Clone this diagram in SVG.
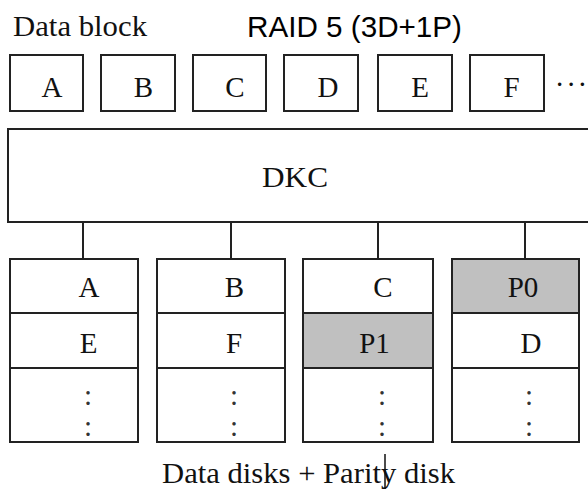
<svg xmlns="http://www.w3.org/2000/svg" width="588" height="489" viewBox="0 0 588 489">
<style>
.box{fill:#fff;stroke:#222;stroke-width:2}
.par{fill:#c0c0c0;stroke:#222;stroke-width:2}
.ln{stroke:#222;stroke-width:2;fill:none}
.t{font-family:"Liberation Serif","Times New Roman",serif;font-size:29px;fill:#111}
.tm{font-family:"Liberation Serif","Times New Roman",serif;font-size:29px;fill:#111;text-anchor:middle}
.dot{font-family:"Liberation Serif","Times New Roman",serif;font-size:29px;fill:#333;text-anchor:middle}
.s{font-family:"Liberation Sans",Arial,sans-serif;font-size:30px;fill:#000}
</style>
<rect width="588" height="489" fill="#fff"/>
<text class="t" x="13" y="36" textLength="134" lengthAdjust="spacingAndGlyphs">Data block</text>
<text class="s" x="247" y="37" textLength="215" lengthAdjust="spacingAndGlyphs">RAID 5 (3D+1P)</text>
<g id="block-A"><rect class="box" x="10" y="55" width="73" height="56"/><text class="tm" x="52" y="97">A</text></g>
<g id="block-B"><rect class="box" x="101" y="55" width="74" height="56"/><text class="tm" x="143.5" y="97">B</text></g>
<g id="block-C"><rect class="box" x="193" y="55" width="73" height="56"/><text class="tm" x="235" y="97">C</text></g>
<g id="block-D"><rect class="box" x="284" y="55" width="74" height="56"/><text class="tm" x="328" y="97">D</text></g>
<g id="block-E"><rect class="box" x="378" y="55" width="74" height="56"/><text class="tm" x="420" y="97">E</text></g>
<g id="block-F"><rect class="box" x="470" y="55" width="74" height="56"/><text class="tm" x="511.5" y="97">F</text></g>
<text class="t" x="556" y="86" textLength="30" lengthAdjust="spacing">...</text>
<g id="dkc"><rect class="box" x="8" y="129" width="590" height="93"/><text class="t" x="262" y="187" textLength="66" lengthAdjust="spacingAndGlyphs">DKC</text></g>
<g id="connectors">
<line class="ln" x1="83" y1="222" x2="83" y2="259"/>
<line class="ln" x1="231" y1="222" x2="231" y2="259"/>
<line class="ln" x1="378" y1="222" x2="378" y2="259"/>
<line class="ln" x1="525" y1="222" x2="525" y2="259"/>
</g>
<g id="disk1">
<rect class="box" x="10" y="259" width="128" height="54"/>
<rect class="box" x="10" y="313" width="128" height="55"/>
<rect class="box" x="10" y="368" width="128" height="74"/>
<text class="tm" x="89" y="297">A</text>
<text class="tm" x="88.5" y="353">E</text>
<text class="dot" x="88" y="405">:</text>
<text class="dot" x="88" y="436">:</text>
</g>
<g id="disk2">
<rect class="box" x="157" y="259" width="128" height="54"/>
<rect class="box" x="157" y="313" width="128" height="55"/>
<rect class="box" x="157" y="368" width="128" height="74"/>
<text class="tm" x="234.5" y="297">B</text>
<text class="tm" x="234" y="353">F</text>
<text class="dot" x="234" y="405">:</text>
<text class="dot" x="234" y="436">:</text>
</g>
<g id="disk3">
<rect class="box" x="303" y="259" width="130" height="54"/>
<rect class="par" x="303" y="313" width="130" height="55"/>
<rect class="box" x="303" y="368" width="130" height="74"/>
<text class="tm" x="383" y="297">C</text>
<text class="tm" x="374.5" y="353">P1</text>
<text class="dot" x="382" y="405">:</text>
<text class="dot" x="382" y="436">:</text>
</g>
<g id="disk4">
<rect class="par" x="452" y="259" width="127" height="54"/>
<rect class="box" x="452" y="313" width="127" height="55"/>
<rect class="box" x="452" y="368" width="127" height="74"/>
<text class="tm" x="523" y="297">P0</text>
<text class="tm" x="531" y="353">D</text>
<text class="dot" x="529" y="405">:</text>
<text class="dot" x="529" y="436">:</text>
</g>
<text class="t" x="162" y="483" textLength="293" lengthAdjust="spacingAndGlyphs">Data disks + Parity disk</text>
<line x1="385" y1="454" x2="385" y2="489" stroke="#111" stroke-width="1.5"/>
</svg>
